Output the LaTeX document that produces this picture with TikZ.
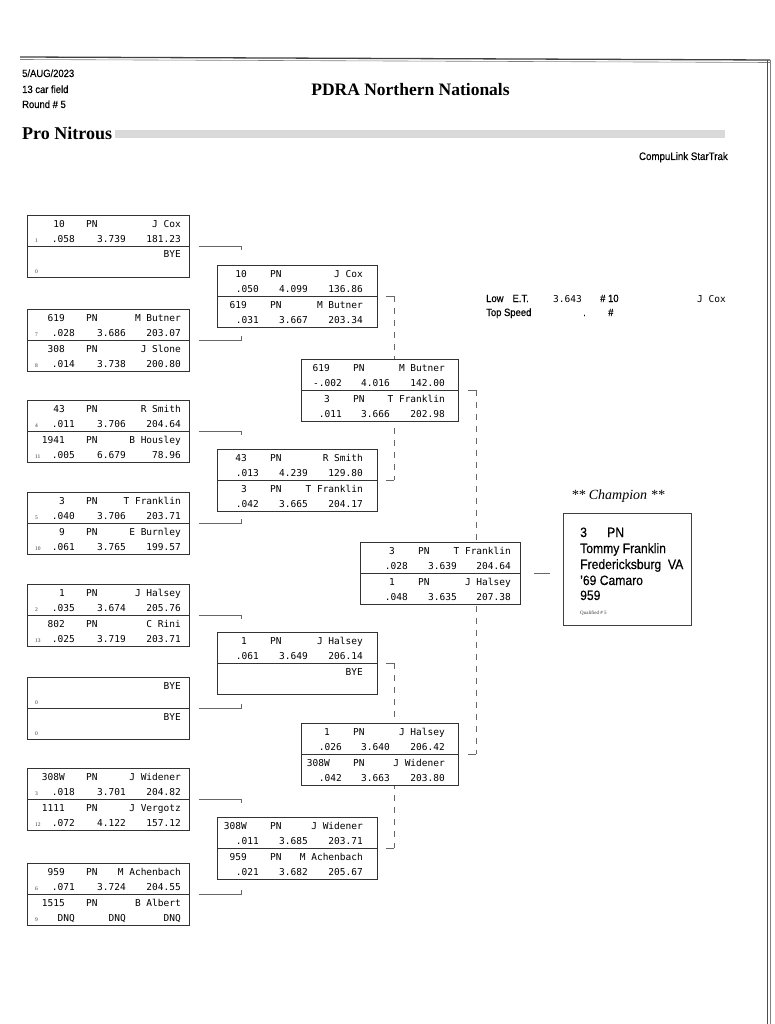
\documentclass[tikz,border=0pt]{standalone}
\usepackage{fontspec}
\setmainfont{Liberation Serif}
\newfontfamily\gsans[FakeStretch=0.9,FakeBold=0.4]{Liberation Sans}
\newfontfamily\mono{DejaVu Sans Mono}
\usetikzlibrary{calc}
\pgfdeclarelayer{bg}
\pgfsetlayers{bg,main}
\tikzset{
  matchbox/.style={draw=black!80, line width=0.8pt, fill=white, rectangle, inner sep=0pt, minimum height=62pt, anchor=north west},
  boxline/.style={draw=black!80, line width=0.8pt},
  tx/.style={font=\mono\fontsize{9.5}{10}\selectfont, inner sep=0pt, text=black},
  qu/.style={font=\fontsize{5.5}{6}\selectfont, inner sep=0pt, anchor=base west, text=black!80},
  hdr/.style={font=\gsans\fontsize{10.5}{12}\selectfont, inner sep=0pt, anchor=base west, text=black},
  conn/.style={draw=black!60, line width=0.6pt},
  dconn/.style={conn, dash pattern=on 6pt off 6pt},
}
\newcommand\setlayout[6]{\def\oCar{#1}\def\oPn{#2}\def\oNm{#3}\def\oRt{#4}\def\oEt{#5}\def\oSp{#6}}
\newcommand\half[8]{%
  \node[tx,anchor=base east] (#1car) at (#2+\oCar,#3+12) {#4};
  \node[tx,anchor=base west] (#1pn) at (#2+\oPn,#3+12) {PN};
  \node[tx,anchor=base east] (#1nm) at (#2+\oNm,#3+12) {#5};
  \node[tx,anchor=base east] (#1rt) at (#2+\oRt,#3+27) {#6};
  \node[tx,anchor=base east] (#1et) at (#2+\oEt,#3+27) {#7};
  \node[tx,anchor=base east] (#1sp) at (#2+\oSp,#3+27) {#8};
}
\newcommand\qual[4]{\node[qu] (#1q) at (#2+8,#3+27) {#4};}
\newcommand\byehalf[3]{\node[tx,anchor=base east] (#1nm) at (#2+\oNm,#3+12) {BYE};}
\newcommand\match[4]{%
  \node[matchbox,minimum width=#4pt] (#1) at (#2,#3) {};
  \draw[boxline] (#1.west) -- (#1.east);
}
\begin{document}
\begin{tikzpicture}[x=1pt,y=-1pt]
\begin{pgfonlayer}{bg}
\fill[white] (0,0) rectangle (775,1024);
\end{pgfonlayer}
\useasboundingbox (0,0) rectangle (775,1024);

% page frame
\draw[black!75, line width=1.3pt] (20,57) -- (770,60);
\draw[black!50, line width=0.6pt] (20,59.5) -- (770,62.5);
\draw[black!70, line width=1pt] (767,60) -- (767,1024);
\draw[black!50, line width=0.6pt] (770,60) -- (770,1024);

% header
\node[hdr] (date) at (22,77) {5/AUG/2023};
\node[hdr] (field) at (22,93) {13 car field};
\node[hdr] (round) at (22,108) {Round \# 5};
\node[font=\bfseries\fontsize{17.5}{20}\selectfont, inner sep=0pt, anchor=base] (title) at (410.5,96) {PDRA Northern Nationals};
\fill[black!15] (115,130) rectangle (725,138);
\node[font=\bfseries\fontsize{18}{20}\selectfont, inner sep=0pt, anchor=base west] (cls) at (22,140) {Pro Nitrous};
\node[hdr, anchor=base east, font=\gsans\fontsize{10.8}{12}\selectfont] (soft) at (728,160) {CompuLink StarTrak};

% Low ET
\node[hdr] (let) at (486,302) {Low\hspace{9pt}E.T.};
\node[tx, anchor=base west] (letv) at (553,302) {3.643};
\node[hdr] (letn) at (600,302) {\# 10};
\node[tx, anchor=base west] (letd) at (697,302) {J Cox};
\node[hdr] (ts) at (486,316) {Top Speed};
\node[hdr] (tsv) at (583,316) {.};
\node[hdr] (tsn) at (608,316) {\#};

% ---------- round 1 ----------
\setlayout{38}{59}{154}{48}{99}{154}
\match{r1a}{27}{215}{162}
\half{r1at}{27}{215}{10}{J Cox}{.058}{3.739}{181.23}\qual{r1at}{27}{215}{1}
\byehalf{r1ab}{27}{215+31}\qual{r1ab}{27}{215+31}{0}

\match{r1b}{27}{309}{162}
\half{r1bt}{27}{309}{619}{M Butner}{.028}{3.686}{203.07}\qual{r1bt}{27}{309}{7}
\half{r1bb}{27}{309+31}{308}{J Slone}{.014}{3.738}{200.80}\qual{r1bb}{27}{309+31}{8}

\match{r1c}{27}{400}{162}
\half{r1ct}{27}{400}{43}{R Smith}{.011}{3.706}{204.64}\qual{r1ct}{27}{400}{4}
\half{r1cb}{27}{400+31}{1941}{B Housley}{.005}{6.679}{78.96}\qual{r1cb}{27}{400+31}{11}

\match{r1d}{27}{492}{162}
\half{r1dt}{27}{492}{3}{T Franklin}{.040}{3.706}{203.71}\qual{r1dt}{27}{492}{5}
\half{r1db}{27}{492+31}{9}{E Burnley}{.061}{3.765}{199.57}\qual{r1db}{27}{492+31}{10}

\match{r1e}{27}{584}{162}
\half{r1et}{27}{584}{1}{J Halsey}{.035}{3.674}{205.76}\qual{r1et}{27}{584}{2}
\half{r1eb}{27}{584+31}{802}{C Rini}{.025}{3.719}{203.71}\qual{r1eb}{27}{584+31}{13}

\match{r1f}{27}{677}{162}
\byehalf{r1ft}{27}{677}\qual{r1ft}{27}{677}{0}
\byehalf{r1fb}{27}{677+31}\qual{r1fb}{27}{677+31}{0}

\match{r1g}{27}{768}{162}
\half{r1gt}{27}{768}{308W}{J Widener}{.018}{3.701}{204.82}\qual{r1gt}{27}{768}{3}
\half{r1gb}{27}{768+31}{1111}{J Vergotz}{.072}{4.122}{157.12}\qual{r1gb}{27}{768+31}{12}

\match{r1h}{27}{863}{162}
\half{r1ht}{27}{863}{959}{M Achenbach}{.071}{3.724}{204.55}\qual{r1ht}{27}{863}{6}
\half{r1hb}{27}{863+31}{1515}{B Albert}{DNQ}{DNQ}{DNQ}\qual{r1hb}{27}{863+31}{9}

% ---------- round 2 ----------
\setlayout{30}{53}{146}{42}{91}{146}
\match{r2a}{217}{265}{160}
\half{r2at}{217}{265}{10}{J Cox}{.050}{4.099}{136.86}
\half{r2ab}{217}{265+31}{619}{M Butner}{.031}{3.667}{203.34}
\match{r2b}{217}{449}{160}
\half{r2bt}{217}{449}{43}{R Smith}{.013}{4.239}{129.80}
\half{r2bb}{217}{449+31}{3}{T Franklin}{.042}{3.665}{204.17}
\match{r2c}{217}{632}{160}
\half{r2ct}{217}{632}{1}{J Halsey}{.061}{3.649}{206.14}
\byehalf{r2cb}{217}{632+31}
\match{r2d}{217}{817}{160}
\half{r2dt}{217}{817}{308W}{J Widener}{.011}{3.685}{203.71}
\half{r2db}{217}{817+31}{959}{M Achenbach}{.021}{3.682}{205.67}

% ---------- round 3 ----------
\setlayout{29}{52}{144}{41}{89}{144}
\match{r3a}{301}{359}{157}
\half{r3at}{301}{359}{619}{M Butner}{-.002}{4.016}{142.00}
\half{r3ab}{301}{359+31}{3}{T Franklin}{.011}{3.666}{202.98}
\match{r3b}{301}{723}{157}
\half{r3bt}{301}{723}{1}{J Halsey}{.026}{3.640}{206.42}
\half{r3bb}{301}{723+31}{308W}{J Widener}{.042}{3.663}{203.80}

% ---------- final ----------
\setlayout{35}{58}{151}{48}{97}{151}
\match{fin}{360}{542}{160}
\half{fint}{360}{542}{3}{T Franklin}{.028}{3.639}{204.64}
\half{finb}{360}{542+31}{1}{J Halsey}{.048}{3.635}{207.38}

% ---------- champion ----------
\node[font=\itshape\fontsize{14}{16}\selectfont, inner sep=0pt, anchor=base] (champt) at (618,499) {** Champion **};
\node[draw=black!75, line width=0.8pt, rectangle, inner sep=0pt, minimum width=128pt, minimum height=112pt, anchor=north west] (champ) at (563,513) {};
\tikzset{cht/.style={font=\gsans\fontsize{13.5}{15}\selectfont, inner sep=0pt, anchor=base west}}
\node[cht] (c1a) at (580,537) {3};
\node[cht] (c1b) at (607,537) {PN};
\node[cht] (c2) at (580,553) {Tommy Franklin};
\node[cht] (c3) at (580,569) {Fredericksburg\enspace VA};
\node[cht] (c4) at (580,585) {’69 Camaro};
\node[cht] (c5) at (580,600) {959};
\node[qu, font=\fontsize{5}{6}\selectfont] (c6) at (580,614) {Qualified \# 5};

% ---------- connectors ----------
\begin{pgfonlayer}{bg}
\foreach \t/\b in {r1a/r1b, r1c/r1d, r1e/r1f, r1g/r1h}{
  \draw[conn] ([xshift=9pt]\t.east) -- ([xshift=51pt]\t.east) -- ++(0,4);
  \draw[conn] ([xshift=9pt]\b.east) -- ([xshift=51pt]\b.east) -- ++(0,-4);
}
\foreach \t/\b in {r2a/r2b, r2c/r2d}{
  \draw[conn] ([xshift=8pt]\t.east) -- ([xshift=16pt]\t.east);
  \draw[conn] ([xshift=8pt]\b.east) -- ([xshift=16pt]\b.east);
  \draw[dconn] ([xshift=16pt]\t.east) -- ([xshift=16pt]\b.east);
}
\draw[conn] ([xshift=9pt]r3a.east) -- ([xshift=17pt]r3a.east);
\draw[conn] ([xshift=9pt]r3b.east) -- ([xshift=17pt]r3b.east);
\draw[dconn] ([xshift=17pt]r3a.east) -- ([xshift=17pt]r3b.east);
\draw[conn] ([xshift=13pt]fin.east) -- ([xshift=-13pt]champ.west |- fin.east);
\end{pgfonlayer}
\end{tikzpicture}
\end{document}
